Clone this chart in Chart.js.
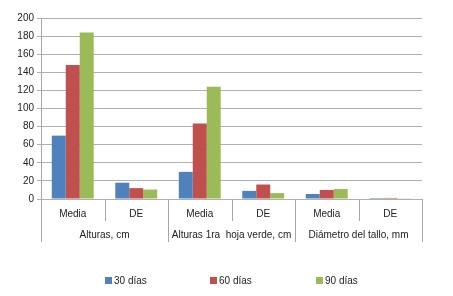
<!DOCTYPE html>
<html>
<head>
<meta charset="utf-8">
<script src="https://cdn.jsdelivr.net/npm/chart.js@4/dist/chart.umd.min.js"></script>
<style>
  html, body { margin: 0; padding: 0; background: #fff; }
  #wrap { width: 453px; height: 296px; }
</style>
</head>
<body>
<div id="wrap"><canvas id="myChart" width="453" height="296"></canvas></div>
<script>
var categories = ['Media', 'DE', 'Media', 'DE', 'Media', 'DE'];
var groups = ['Alturas, cm', 'Alturas 1ra  hoja verde, cm', 'Diámetro del tallo, mm'];
var seriesNames = ['30 días', '60 días', '90 días'];
var d30 = [70, 18, 30, 9, 5.5, 1.1];
var d60 = [148, 12, 83.5, 16, 10, 1.2];
var d90 = [184, 10.5, 124, 6.5, 11, 0.8];
var colors = ['#4F81BD', '#C0504D', '#9BBB59'];

var FONT = '"Liberation Sans", Arial, sans-serif';

// draws the two-level category axis and the legend
var axisPlugin = {
    id: 'groupAxis',
    afterDraw: function (chart) {
        var ctx = chart.ctx;
        var area = chart.chartArea;
        var x = chart.scales.x;
        var n = categories.length;
        var w = (area.right - area.left) / n;
        ctx.save();
        ctx.strokeStyle = '#a6a6a6';
        ctx.lineWidth = 1;
        for (var i = 0; i <= n; i++) {
            var px = Math.round(area.left + i * w) + 0.5;
            var len = (i % 2 === 0) ? 43 : 22;
            ctx.beginPath();
            ctx.moveTo(px, area.bottom);
            ctx.lineTo(px, area.bottom + len);
            ctx.stroke();
        }
        ctx.fillStyle = '#222';
        ctx.font = '10px ' + FONT;
        ctx.textAlign = 'center';
        ctx.textBaseline = 'middle';
        for (var j = 0; j < n; j++) {
            ctx.fillText(categories[j], x.getPixelForValue(j), area.bottom + 15);
        }
        for (var g = 0; g < groups.length; g++) {
            var cx = area.left + (g * 2 + 1) * w;
            ctx.fillText(groups[g], cx, area.bottom + 36);
        }
        // legend
        var lx = [105, 210, 316];
        ctx.textAlign = 'left';
        for (var k = 0; k < seriesNames.length; k++) {
            ctx.fillStyle = colors[k];
            ctx.fillRect(lx[k], 277, 7, 7);
            ctx.fillStyle = '#222';
            ctx.fillText(seriesNames[k], lx[k] + 9, 281);
        }
        ctx.restore();
    }
};

var ctx = document.getElementById('myChart').getContext('2d');
var myChart = new Chart(ctx, {
    type: 'bar',
    data: {
        labels: categories,
        datasets: [
            { label: seriesNames[0], data: d30, backgroundColor: colors[0] },
            { label: seriesNames[1], data: d60, backgroundColor: colors[1] },
            { label: seriesNames[2], data: d90, backgroundColor: colors[2] }
        ]
    },
    options: {
        responsive: false,
        animation: false,
        datasets: {
            bar: { categoryPercentage: 0.66, barPercentage: 1 }
        },
        layout: { padding: { top: 18, right: 31, bottom: 97, left: 0 } },
        plugins: {
            legend: { display: false },
            tooltip: { enabled: false }
        },
        scales: {
            x: { display: false },
            y: {
                min: 0,
                max: 200,
                ticks: {
                    stepSize: 20,
                    color: '#222',
                    padding: 3,
                    font: { size: 10, family: FONT }
                },
                grid: { color: '#b0b0b0', tickLength: 4 },
                border: { color: '#a6a6a6' },
                afterFit: function (scale) { scale.width = 41; }
            }
        }
    },
    plugins: [axisPlugin]
});
</script>
</body>
</html>
